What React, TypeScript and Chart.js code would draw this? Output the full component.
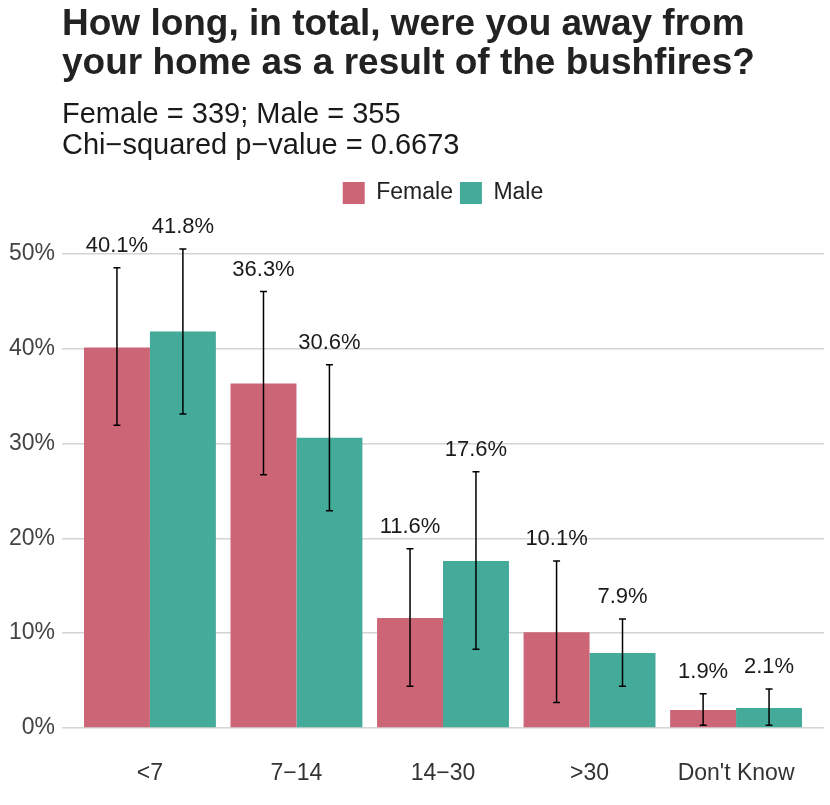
import { useEffect, useRef } from "react"
import { Chart, registerables } from "chart.js"

Chart.register(...registerables)

const FONT = "'Liberation Sans', Arial, Helvetica, sans-serif"

// Categorie (giorni lontano da casa)
const categories = ["<7", "7\u221214", "14\u221230", ">30", "Don't Know"]

// Percentuali per sesso
const femaleValues = [40.1, 36.3, 11.6, 10.1, 1.9]
const maleValues = [41.8, 30.6, 17.6, 7.9, 2.1]

// Intervalli di confidenza
const femaleLow = [31.9, 26.7, 4.4, 2.7, 0.3]
const femaleHigh = [48.5, 46.0, 18.9, 17.6, 3.6]
const maleLow = [33.1, 22.9, 8.3, 4.4, 0.3]
const maleHigh = [50.5, 38.3, 27.0, 11.5, 4.1]

const yTicks = [0, 10, 20, 30, 40, 50]

const seriesNames = ["Female", "Male"]
const seriesColors = ["#CC6677", "#44AA99"]

const lows = [femaleLow, maleLow]
const highs = [femaleHigh, maleHigh]

const errorBarPlugin = {
  id: "errorBars",
  afterDatasetsDraw(chart: Chart) {
    const { ctx } = chart
    const y = chart.scales.y
    ctx.save()
    chart.data.datasets.forEach((ds: any, di: number) => {
      const meta = chart.getDatasetMeta(di)
      meta.data.forEach((bar: any, i: number) => {
        const x = bar.x
        const top = y.getPixelForValue(highs[di][i])
        const bottom = y.getPixelForValue(lows[di][i])
        ctx.strokeStyle = "#000000"
        ctx.lineWidth = 1.5
        ctx.beginPath()
        ctx.moveTo(x, top)
        ctx.lineTo(x, bottom)
        ctx.moveTo(x - 3.5, top)
        ctx.lineTo(x + 3.5, top)
        ctx.moveTo(x - 3.5, bottom)
        ctx.lineTo(x + 3.5, bottom)
        ctx.stroke()

        ctx.fillStyle = "#1a1a1a"
        ctx.font = `22px ${FONT}`
        ctx.textAlign = "center"
        ctx.textBaseline = "alphabetic"
        ctx.fillText(`${ds.data[i].y.toFixed(1)}%`, x, top - 16)
      })
    })
    ctx.restore()
  },
}

function GroupedBarChart() {
  const chartRef = useRef<HTMLCanvasElement>(null)
  const chartInstance = useRef<Chart | null>(null)

  useEffect(() => {
    if (!chartRef.current) return
    if (chartInstance.current) chartInstance.current.destroy()
    const ctx = chartRef.current.getContext("2d")
    if (!ctx) return

    const datasets = [femaleValues, maleValues].map((values, index) => ({
      label: seriesNames[index],
      data: values.map((v, i) => ({ x: i + 1, y: v })),
      backgroundColor: seriesColors[index],
      borderWidth: 0,
      categoryPercentage: 0.9,
      barPercentage: 1.0,
    }))

    chartInstance.current = new Chart(ctx, {
      type: "bar",
      data: { datasets },
      plugins: [errorBarPlugin],
      options: {
        animation: false,
        responsive: true,
        maintainAspectRatio: false,
        layout: { padding: { left: 0, right: 6, top: 0, bottom: 0 } },
        plugins: {
          title: {
            display: true,
            fullSize: false,
            align: "start",
            text: ["How long, in total, were you away from", "your home as a result of the bushfires?"],
            color: "#222222",
            font: { family: FONT, size: 37, weight: "bold", lineHeight: 1.081 },
            padding: { top: 4.3, bottom: 15.15 },
          },
          subtitle: {
            display: true,
            fullSize: false,
            align: "start",
            text: ["Female = 339; Male = 355", "Chi\u2212squared p\u2212value = 0.6673"],
            color: "#1a1a1a",
            font: { family: FONT, size: 29, lineHeight: 1.08 },
            padding: { top: 0, bottom: 12.45 },
          },
          legend: {
            display: true,
            position: "top",
            fullSize: false,
            labels: {
              boxWidth: 22,
              boxHeight: 22,
              padding: 7,
              color: "#222222",
              font: { family: FONT, size: 23 },
            },
          },
          tooltip: { enabled: false },
        },
        scales: {
          x: {
            type: "linear",
            offset: false,
            min: 0.4,
            max: 5.6,
            grid: { display: false },
            border: { display: false },
            afterBuildTicks: (scale: any) => {
              scale.ticks = categories.map((_, i) => ({ value: i + 1 }))
            },
            afterFit: (scale: any) => {
              scale.height = 77
            },
            ticks: {
              autoSkip: false,
              maxRotation: 0,
              padding: 24,
              color: "#333333",
              font: { family: FONT, size: 23 },
              callback: (value: any) => categories[Math.round(value) - 1] ?? "",
            },
          },
          y: {
            min: 0,
            max: 54.12,
            grid: { color: "#d4d4d4", lineWidth: 1.4, drawTicks: false },
            border: { display: false },
            afterBuildTicks: (scale: any) => {
              scale.ticks = yTicks.map((v) => ({ value: v }))
            },
            afterFit: (scale: any) => {
              scale.width = 62
            },
            ticks: {
              padding: 7,
              color: "#444444",
              font: { family: FONT, size: 23 },
              callback: (value: any) => `${value}%`,
            },
          },
        },
      },
    } as any)

    return () => {
      if (chartInstance.current) {
        chartInstance.current.destroy()
        chartInstance.current = null
      }
    }
  }, [])

  return <canvas ref={chartRef} />
}

export default function App() {
  return (
    <div style={{ position: "absolute", left: 0, top: 0, width: 830, height: 805, background: "#ffffff" }}>
      <GroupedBarChart />
    </div>
  )
}
